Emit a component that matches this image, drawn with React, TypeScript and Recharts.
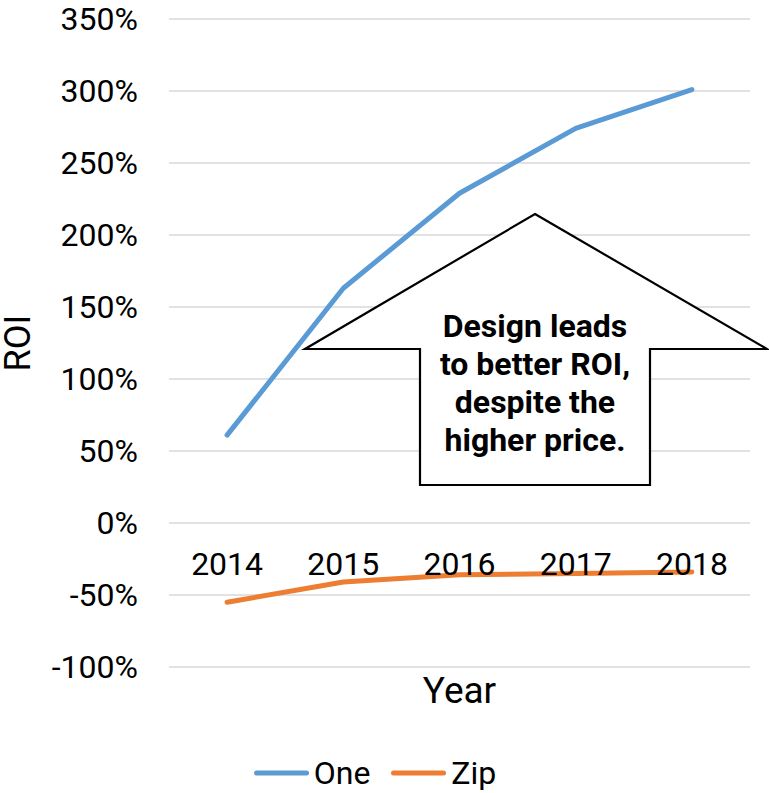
import React from 'react';
import { LineChart, Line, XAxis, YAxis, CartesianGrid, Legend, ReferenceDot, Label, Customized } from 'recharts';

const years = ['2014', '2015', '2016', '2017', '2018'];
const oneValues = [61, 163, 229, 274, 301];
const zipValues = [-55, -41, -36, -35, -34];
const yTicks = [-100, -50, 0, 50, 100, 150, 200, 250, 300, 350];
const seriesNames = ['One', 'Zip'];
const seriesColors = ['#5B9BD5', '#ED7D31'];
const annotationLines = ['Design leads', 'to better ROI,', 'despite the', 'higher price.'];

const data = years.map((year, i) => ({ year, One: oneValues[i], Zip: zipValues[i] }));

const FONT = 'Roboto, "Noto Sans", sans-serif';

const Annotation = () => (
  <g>
    <polygon
      points="535,214 767,349 650,349 650,485 420,485 420,349 305,349"
      fill="#fff"
      stroke="#000"
      strokeWidth={2.2}
      strokeLinejoin="miter"
    />
    {annotationLines.map((t, i) => (
      <text
        key={i}
        x={535}
        y={337 + i * 38}
        textAnchor="middle"
        fontFamily={FONT}
        fontWeight={700}
        fontSize={32}
        fill="#000"
      >
        {t}
      </text>
    ))}
  </g>
);

const LegendContent = () => (
  <div
    style={{
      display: 'flex',
      justifyContent: 'center',
      alignItems: 'center',
      height: 46,
      paddingTop: 6,
      boxSizing: 'border-box',
      fontFamily: FONT,
      fontSize: 32,
      color: '#000',
    }}
  >
    {seriesNames.map((name, i) => (
      <div key={name} style={{ display: 'flex', alignItems: 'center', marginRight: i === 0 ? 21 : 0 }}>
        <svg width={55} height={10} style={{ marginRight: 5 }}>
          <line x1={2.5} y1={5} x2={52.5} y2={5} stroke={seriesColors[i]} strokeWidth={5} strokeLinecap="round" />
        </svg>
        <span>{name}</span>
      </div>
    ))}
  </div>
);

export default function App() {
  return (
    <div style={{ position: 'absolute', left: 0, top: 0, width: 769, height: 793, background: '#fff' }}>
      <LineChart width={769} height={793} data={data} margin={{ top: 19, right: 19, left: 0, bottom: 0 }}>
        <CartesianGrid vertical={false} stroke="#D9D9D9" strokeWidth={1.5} />
        <XAxis dataKey="year" scale="band" tick={false} axisLine={false} tickLine={false} height={80}>
          <Label
            content={(props: any) => {
              const vb = props.viewBox || {};
              return (
                <text
                  x={vb.x + vb.width / 2}
                  y={vb.y + 36}
                  textAnchor="middle"
                  fontFamily={FONT}
                  fontSize={37}
                  fill="#000"
                >
                  Year
                </text>
              );
            }}
          />
        </XAxis>
        <YAxis
          width={169}
          domain={[-100, 350]}
          ticks={yTicks}
          tickFormatter={(v: number) => `${v}%`}
          axisLine={false}
          tickLine={false}
          tickSize={0}
          tickMargin={31}
          tick={{ fontSize: 32, fill: '#000', fontFamily: FONT }}
          interval={0}
        >
          <Label
            content={(props: any) => {
              const vb = props.viewBox || {};
              const cx = vb.x + 18;
              const cy = vb.y + vb.height / 2;
              return (
                <text
                  x={cx}
                  y={cy}
                  transform={`rotate(-90 ${cx} ${cy})`}
                  textAnchor="middle"
                  dominantBaseline="central"
                  fontFamily={FONT}
                  fontSize={36}
                  fill="#000"
                >
                  ROI
                </text>
              );
            }}
          />
        </YAxis>
        {years.map((y) => (
          <ReferenceDot
            key={y}
            x={y}
            y={0}
            r={1}
            ifOverflow="visible"
            shape={(p: any) => (
              <text x={p.cx} y={p.cy + 51.5} textAnchor="middle" fontFamily={FONT} fontSize={32} fill="#000">
                {y}
              </text>
            )}
          />
        ))}
        <Line
          dataKey="One"
          stroke={seriesColors[0]}
          strokeWidth={5}
          dot={false}
          strokeLinecap="round"
          strokeLinejoin="round"
          isAnimationActive={false}
        />
        <Line
          dataKey="Zip"
          stroke={seriesColors[1]}
          strokeWidth={5}
          dot={false}
          strokeLinecap="round"
          strokeLinejoin="round"
          isAnimationActive={false}
        />
        <Customized component={<Annotation />} />
        <Legend verticalAlign="bottom" height={46} content={<LegendContent />} />
      </LineChart>
    </div>
  );
}
